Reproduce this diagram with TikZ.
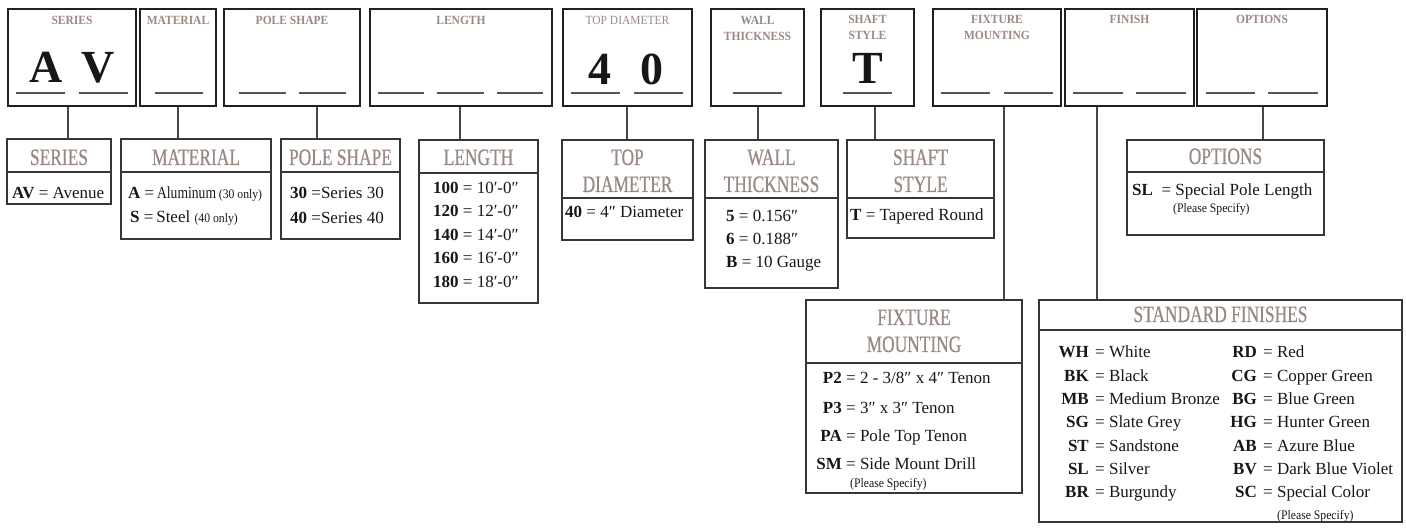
\documentclass[tikz,border=0pt]{standalone}
\usepackage{fontspec}
\setmainfont{Liberation Serif}
\newfontfamily\hdfont{Liberation Serif}[FakeStretch=0.74,FakeBold=0.6]
\newfontfamily\thfont{Liberation Serif}[FakeStretch=0.92]
\newfontfamily\cnfont{Liberation Serif}[FakeStretch=0.9]
\newfontfamily\alfont{Liberation Serif}[FakeStretch=0.8]
\usetikzlibrary{fit}
\definecolor{hdr}{RGB}{152,137,131}
\definecolor{framec}{RGB}{35,31,32}
\definecolor{lowc}{RGB}{55,55,55}
\definecolor{ulc}{RGB}{85,85,85}
\definecolor{connc}{RGB}{70,70,70}
\definecolor{txt}{RGB}{25,22,22}
\begin{document}
\begin{tikzpicture}[x=1pt,y=-1pt,
  topbox/.style={draw=framec, line width=2.2pt, inner sep=0pt},
  lowbox/.style={draw=lowc, line width=1.1pt, inner sep=0pt},
  uline/.style={draw=ulc, line width=1.4pt},
  conn/.style={draw=connc, line width=1.2pt},
  divider/.style={draw=lowc, line width=1.1pt},
  thd/.style={inner sep=0pt, anchor=base, text=hdr, font=\thfont\bfseries\fontsize{12.5}{14}\selectfont},
  thdr/.style={inner sep=0pt, anchor=base, text=hdr, font=\thfont\fontsize{12.5}{14}\selectfont},
  lhd/.style={inner sep=0pt, anchor=base, text=hdr, font=\hdfont\fontsize{23.5}{26}\selectfont},
  big/.style={inner sep=0pt, anchor=base, text=txt, font=\bfseries\fontsize{46}{48}\selectfont},
  body/.style={inner sep=0pt, anchor=base west, text=txt, font=\fontsize{17}{20}\selectfont},
  code/.style={inner sep=0pt, anchor=base east, text=txt, font=\bfseries\fontsize{17}{20}\selectfont},
  small/.style={inner sep=0pt, anchor=base west, text=txt, font=\cnfont\fontsize{13}{14}\selectfont}
]
\useasboundingbox (0,0) rectangle (1406,529);

% ---------- top boxes ----------
\node[topbox, fit={(8,9) (136,106)}]   (tSer) {};
\node[topbox, fit={(140,9) (216,106)}] (tMat) {};
\node[topbox, fit={(224,9) (360,106)}] (tPole) {};
\node[topbox, fit={(370,9) (552,106)}] (tLen) {};
\node[topbox, fit={(563,9) (692,106)}] (tTop) {};
\node[topbox, fit={(711,9) (804,106)}] (tWall) {};
\node[topbox, fit={(821,9) (914,106)}] (tShaft) {};
\node[topbox, fit={(933,9) (1061,106)}] (tFix) {};
\node[topbox, fit={(1065,9) (1194,106)}] (tFin) {};
\node[topbox, fit={(1197,9) (1327,106)}] (tOpt) {};

% top headers
\node[thd] (hSer) at (72,24.5) {SERIES};
\node[thd] (hMat) at (178,24.5) {MATERIAL};
\node[thd] (hPole) at (292,24.5) {POLE SHAPE};
\node[thd] (hLen) at (461,24.5) {LENGTH};
\node[thdr] (hTop) at (627.5,25) {TOP DIAMETER};
\node[thd] (hWa) at (757.5,25) {WALL};
\node[thd] (hWb) at (757.5,41) {THICKNESS};
\node[thd] (hSa) at (867.5,24) {SHAFT};
\node[thd] (hSb) at (867.5,40) {STYLE};
\node[thd] (hFa) at (997,24) {FIXTURE};
\node[thd] (hFb) at (997,40) {MOUNTING};
\node[thd] (hFin) at (1129.5,24) {FINISH};
\node[thd] (hOpt) at (1262,24) {OPTIONS};

% underlines
\foreach \a/\b in {16/65,79/128,155/203,239/286,299/346,378/424,437/484,497/543,
  571/620,634/683,733/782,843/892,941/990,1004/1053,1073/1123,1136/1186,1206/1255,1268/1318}
  \draw[uline] (\a,93) -- (\b,93);

% big letters
\node[big] (bA) at (46,83) {A};
\node[big] (bV) at (98,83) {V};
\node[big] (b4) at (600,85) {4};
\node[big] (b0) at (652,85) {0};
\node[big] (bT) at (868,84) {T};

% ---------- lower boxes ----------
\node[lowbox, fit={(7,139) (111,204)}]    (lSer) {};
\node[lowbox, fit={(121,139) (271,239)}]  (lMat) {};
\node[lowbox, fit={(281,139) (400,239)}]  (lPole) {};
\node[lowbox, fit={(419,140) (538,303)}]  (lLen) {};
\node[lowbox, fit={(562,140) (693,240)}]  (lTop) {};
\node[lowbox, fit={(705,140) (838,288)}]  (lWall) {};
\node[lowbox, fit={(847,140) (994,238)}]  (lShaft) {};
\node[lowbox, fit={(1127,140) (1324,235)}] (lOpt) {};
\node[lowbox, fit={(806,300) (1022,493)}] (lFix) {};
\node[lowbox, fit={(1039,300) (1402,522)}] (lFin) {};

% dividers
\draw[divider] (lSer.west |- 0,172) -- (lSer.east |- 0,172);
\draw[divider] (lMat.west |- 0,172) -- (lMat.east |- 0,172);
\draw[divider] (lPole.west |- 0,172) -- (lPole.east |- 0,172);
\draw[divider] (lLen.west |- 0,173) -- (lLen.east |- 0,173);
\draw[divider] (lTop.west |- 0,198) -- (lTop.east |- 0,198);
\draw[divider] (lWall.west |- 0,198) -- (lWall.east |- 0,198);
\draw[divider] (lShaft.west |- 0,198) -- (lShaft.east |- 0,198);
\draw[divider] (lOpt.west |- 0,172) -- (lOpt.east |- 0,172);
\draw[divider] (lFix.west |- 0,363) -- (lFix.east |- 0,363);
\draw[divider] (lFin.west |- 0,330) -- (lFin.east |- 0,330);

% connectors
\draw[conn] (tSer.south -| 68,0) -- (lSer.north -| 68,0);
\draw[conn] (tMat.south -| 178,0) -- (lMat.north -| 178,0);
\draw[conn] (tPole.south -| 317,0) -- (lPole.north -| 317,0);
\draw[conn] (tLen.south -| 460,0) -- (lLen.north -| 460,0);
\draw[conn] (tTop.south -| 627,0) -- (lTop.north -| 627,0);
\draw[conn] (tWall.south -| 758,0) -- (lWall.north -| 758,0);
\draw[conn] (tShaft.south -| 875,0) -- (lShaft.north -| 875,0);
\draw[conn] (tFix.south -| 1004,0) -- (lFix.north -| 1004,0);
\draw[conn] (tFin.south -| 1097,0) -- (lFin.north -| 1097,0);
\draw[conn] (tOpt.south -| 1263,0) -- (lOpt.north -| 1263,0);

% lower headers
\node[lhd] (gSer) at (59,165) {SERIES};
\node[lhd] (gMat) at (196,165) {MATERIAL};
\node[lhd] (gPole) at (340.5,165) {POLE SHAPE};
\node[lhd] (gLen) at (478.5,165) {LENGTH};
\node[lhd] (gTa) at (627.5,165) {TOP};
\node[lhd] (gTb) at (627.5,192) {DIAMETER};
\node[lhd] (gWa) at (771.5,165) {WALL};
\node[lhd] (gWb) at (771.5,192) {THICKNESS};
\node[lhd] (gSa) at (920.5,165) {SHAFT};
\node[lhd] (gSb) at (920.5,192) {STYLE};
\node[lhd] (gOpt) at (1225.5,164) {OPTIONS};
\node[lhd] (gFa) at (914,325) {FIXTURE};
\node[lhd] (gFb) at (914,352) {MOUNTING};
\node[lhd] (gFin) at (1220.5,322) {STANDARD FINISHES};

% body texts
\node[body] (sAV) at (12,199) {\textbf{AV} = Avenue};
\node[body] (mA) at (128,199) {\textbf{A} =\,{\alfont Aluminum}\,{\cnfont\fontsize{13}{14}\selectfont(30 only)}};
\node[body] (mS) at (130,223) {\textbf{S} =\,Steel {\cnfont\fontsize{13}{14}\selectfont(40 only)}};
\node[body] (p30) at (290,199) {\textbf{30} =Series 30};
\node[body] (p40) at (290,224) {\textbf{40} =Series 40};
\node[body] (l100) at (433,194) {\textbf{100} = 10′-0″};
\node[body] (l120) at (433,217) {\textbf{120} = 12′-0″};
\node[body] (l140) at (433,241) {\textbf{140} = 14′-0″};
\node[body] (l160) at (433,264) {\textbf{160} = 16′-0″};
\node[body] (l180) at (433,288) {\textbf{180} = 18′-0″};
\node[body] (d40) at (565,218) {\textbf{40} = 4″ Diameter};
\node[body] (w5) at (726,222) {\textbf{5} = 0.156″};
\node[body] (w6) at (726,245) {\textbf{6} = 0.188″};
\node[body] (wB) at (726,268) {\textbf{B} = 10 Gauge};
\node[body] (sT) at (850,221) {\textbf{T} = Tapered Round};
\node[body] (oSL) at (1132,196) {\textbf{SL}\ \ = Special Pole Length};
\node[small] (oPS) at (1173,213) {(Please Specify)};

% fixture mounting rows
\foreach \c/\t/\y in {P2/{= 2 - 3/8″ x 4″ Tenon}/384, P3/{= 3″ x 3″ Tenon}/413,
  PA/{= Pole Top Tenon}/441, SM/{= Side Mount Drill}/469}{
  \node[code] at (842,\y) {\c};
  \node[body] at (846,\y) {\t};
}
\node[small] (fPS) at (850,487) {(Please Specify)};

% finishes
\foreach \c/\t [count=\i] in {WH/White, BK/Black, MB/Medium Bronze, SG/Slate Grey,
  ST/Sandstone, SL/Silver, BR/Burgundy}{
  \node[code] at (1089,{358+23.3*(\i-1)}) {\c};
  \node[body] at (1095,{358+23.3*(\i-1)}) {= \t};
}
\foreach \c/\t [count=\i] in {RD/Red, CG/Copper Green, BG/Blue Green, HG/Hunter Green,
  AB/Azure Blue, BV/Dark Blue Violet, SC/Special Color}{
  \node[code] at (1257,{358+23.3*(\i-1)}) {\c};
  \node[body] at (1263,{358+23.3*(\i-1)}) {= \t};
}
\node[small] (nPS) at (1277,519) {(Please Specify)};
\end{tikzpicture}
\end{document}
